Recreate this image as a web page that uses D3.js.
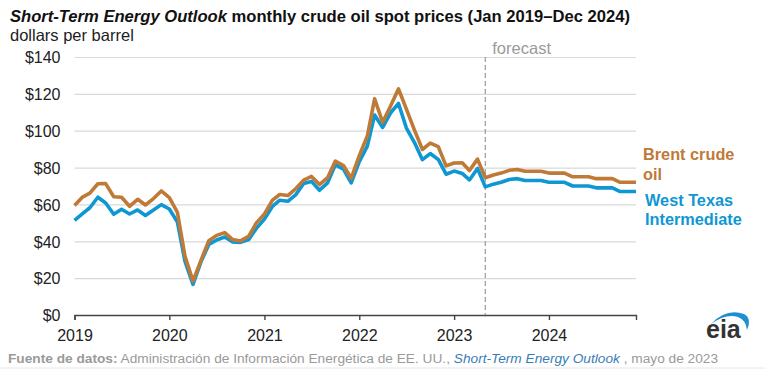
<!DOCTYPE html>
<html lang="en">
<head>
    <meta charset="UTF-8">
    <title>STEO crude oil spot prices</title>
    <style>
        body { margin: 0; background: #fff; }
        svg { display: block; font-family: "Liberation Sans", Arial, sans-serif; }
        .grid line { stroke: #d9d9d9; stroke-width: 1.2px; }
        .tick text { font-size: 16px; fill: #222; }
        .xAxis path, .xAxis line { stroke: #444; stroke-width: 1.4px; }
        .clsBrent { stroke: #bf7a37; stroke-width: 3.6px; fill: none; stroke-linejoin: round; }
        .clsWti { stroke: #0f97d4; stroke-width: 3.6px; fill: none; stroke-linejoin: round; }
        .label { font-size: 16.3px; font-weight: bold; }
    </style>
    <script src="https://d3js.org/d3.v7.min.js"></script>
</head>
<body>
<div class="container"></div>
<script>
    // monthly values, Jan 2019 .. Dec 2024 (forecast from May 2023)
    const startMonth = new Date(2019, 0, 1);
    const endMonth = new Date(2024, 11, 1);
    const forecastStart = new Date(2023, 4, 1);

    const brent = [
        59.4, 64.0, 66.1, 71.2, 71.3, 64.2, 63.9, 59.0, 62.8, 59.7, 63.2, 67.3,
        63.7, 55.7, 32.0, 18.4, 29.4, 40.3, 43.2, 44.7, 40.9, 40.2, 42.7, 50.0,
        54.8, 62.3, 65.4, 64.8, 68.5, 73.2, 75.2, 70.8, 74.5, 83.5, 81.1, 74.2,
        86.5, 97.1, 117.3, 104.6, 113.3, 122.7, 111.9, 100.5, 89.8, 93.3, 91.4, 80.9,
        82.5, 82.6, 78.4, 84.6, 74.5, 76.0, 77.0, 78.5, 79.0, 78.0, 78.0, 78.0,
        77.0, 77.0, 77.0, 75.0, 75.0, 75.0, 74.0, 74.0, 74.0, 72.0, 72.0, 72.0
    ];
    const wti = [
        51.4, 55.0, 58.2, 63.9, 60.8, 54.7, 57.4, 54.8, 57.0, 54.0, 57.0, 59.9,
        57.5, 50.5, 29.2, 16.6, 28.6, 38.3, 40.7, 42.3, 39.6, 39.4, 40.9, 47.0,
        52.0, 59.0, 62.3, 61.7, 65.2, 71.4, 72.5, 67.7, 71.7, 81.5, 79.2, 71.7,
        83.2, 91.6, 108.5, 101.8, 109.6, 114.8, 101.6, 93.7, 84.3, 87.6, 84.4, 76.4,
        78.1, 76.8, 73.3, 79.5, 69.5, 71.0, 72.0, 73.5, 74.0, 73.0, 73.0, 73.0,
        72.0, 72.0, 72.0, 70.0, 70.0, 70.0, 69.0, 69.0, 69.0, 67.0, 67.0, 67.0
    ];
    const yTicks = [0, 20, 40, 60, 80, 100, 120, 140];
    const brentLabel = ["Brent crude", "oil"];
    const wtiLabel = ["West Texas", "Intermediate"];

    const width = 765, height = 373;
    const margin = {top: 57, right: 129, bottom: 58, left: 74.5};

    const months = d3.timeMonth.range(startMonth, d3.timeMonth.offset(endMonth, 1));
    const data = months.map((d, i) => ({date: d, brent: brent[i], wti: wti[i]}));

    const svg = d3.select(".container").append("svg")
        .attr("width", width)
        .attr("height", height);

    const x = d3.scaleTime()
        .domain([startMonth, endMonth])
        .range([margin.left, width - margin.right]);
    const y = d3.scaleLinear()
        .domain([0, 140])
        .range([height - margin.bottom, margin.top]);

    // title and units
    const title = svg.append("text")
        .attr("x", 10).attr("y", 22)
        .attr("font-size", 16.6).attr("font-weight", "bold").attr("fill", "#111");
    title.append("tspan").attr("font-style", "italic").text("Short-Term Energy Outlook");
    title.append("tspan").text(" monthly crude oil spot prices (Jan 2019\u2013Dec 2024)");
    svg.append("text")
        .attr("x", 10).attr("y", 41)
        .attr("font-size", 16.5).attr("fill", "#222")
        .text("dollars per barrel");

    // gridlines + y labels
    const yAxis = svg.append("g")
        .attr("class", "grid")
        .attr("transform", `translate(${margin.left}, 0)`)
        .call(d3.axisLeft(y).tickValues(yTicks)
            .tickSize(-(width - margin.right - margin.left))
            .tickPadding(14)
            .tickFormat(d => "$" + d));
    yAxis.select(".domain").remove();
    yAxis.selectAll(".tick").filter(d => d === 0).select("line").remove();
    yAxis.selectAll("text").attr("dy", "0.36em");

    // x axis
    const xAxis = svg.append("g")
        .attr("class", "xAxis")
        .attr("transform", `translate(0, ${height - margin.bottom})`)
        .call(d3.axisBottom(x).ticks(d3.timeYear.every(1))
            .tickFormat(d3.timeFormat("%Y"))
            .tickSizeOuter(0).tickSize(5).tickPadding(6));
    xAxis.selectAll("text").attr("dy", "0.95em");

    // forecast divider
    svg.append("line")
        .attr("x1", x(forecastStart)).attr("x2", x(forecastStart))
        .attr("y1", margin.top).attr("y2", height - margin.bottom)
        .attr("stroke", "#9a9a9a").attr("stroke-width", 1.2)
        .attr("stroke-dasharray", "5,3");
    svg.append("text")
        .attr("x", x(forecastStart) + 7).attr("y", 54)
        .attr("font-size", 16.5).attr("fill", "#9a9a9a")
        .text("forecast");

    // lines
    const lineOf = key => d3.line()
        .x(d => x(d.date))
        .y(d => y(d[key]));
    svg.append("path").datum(data).attr("class", "clsWti").attr("d", lineOf("wti"));
    svg.append("path").datum(data).attr("class", "clsBrent").attr("d", lineOf("brent"));

    // series labels
    svg.append("text").attr("class", "label").attr("fill", "#bf7a37")
        .attr("x", 643).attr("y", 160)
        .selectAll("tspan").data(brentLabel).join("tspan")
        .attr("x", 643).attr("dy", (d, i) => i ? 19.5 : 0).text(d => d);
    svg.append("text").attr("class", "label").attr("fill", "#0f97d4")
        .attr("x", 645).attr("y", 206)
        .selectAll("tspan").data(wtiLabel).join("tspan")
        .attr("x", 645).attr("dy", (d, i) => i ? 18.5 : 0).text(d => d);

    // source note
    const note = svg.append("text")
        .attr("x", 8).attr("y", 363)
        .attr("font-size", 13.7).attr("fill", "#9a9a9a");
    note.append("tspan").attr("font-weight", "bold").text("Fuente de datos:");
    note.append("tspan").text(" Administración de Información Energética de EE. UU., ");
    note.append("tspan").attr("font-style", "italic").attr("fill", "#3a7db5").text("Short-Term Energy Outlook");
    note.append("tspan").text(" , mayo de 2023");
    svg.append("line")
        .attr("x1", 0).attr("x2", width)
        .attr("y1", 368).attr("y2", 368)
        .attr("stroke", "#e6e6e6").attr("stroke-width", 1);

    // eia logo
    const logo = svg.append("g").attr("class", "logo");
    logo.append("path")
        .attr("d", "M711,324 Q726,308 744,314 Q752,318 747,330 Q746,320 738,317 Q726,313 711,324 Z")
        .attr("fill", "#1f8fd0");
    logo.append("text")
        .attr("x", 706).attr("y", 338)
        .attr("font-size", 25).attr("font-weight", "bold").attr("fill", "#333")
        .text("eia");
</script>
</body>
</html>
